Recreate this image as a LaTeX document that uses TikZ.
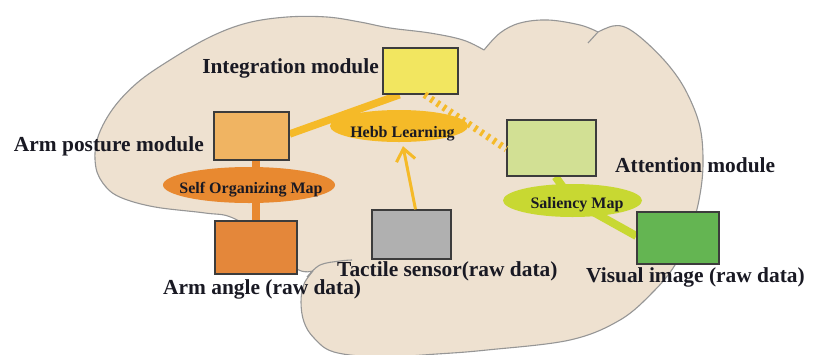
\documentclass[tikz,border=0pt]{standalone}
\usepackage{fontspec}
\setmainfont{Liberation Serif}
\usetikzlibrary{shapes.geometric,arrows.meta,calc}

\definecolor{brainfill}{RGB}{238,225,208}
\definecolor{brainedge}{RGB}{150,150,150}
\definecolor{boxedge}{RGB}{60,60,60}
\definecolor{labcol}{RGB}{25,25,35}
\definecolor{integcol}{RGB}{242,230,96}
\definecolor{posturecol}{RGB}{240,180,98}
\definecolor{anglecol}{RGB}{228,135,58}
\definecolor{tactilecol}{RGB}{176,176,176}
\definecolor{attncol}{RGB}{210,224,148}
\definecolor{visualcol}{RGB}{100,181,82}
\definecolor{hebbcol}{RGB}{245,186,40}
\definecolor{somcol}{RGB}{232,137,48}
\definecolor{salcol}{RGB}{200,216,50}

\pgfdeclarelayer{brainlayer}
\pgfdeclarelayer{linklayer}
\pgfdeclarelayer{maplayer}
\pgfsetlayers{brainlayer,linklayer,maplayer,main}

\begin{document}
\begin{tikzpicture}[x=1pt,y=-1pt,
  brain/.style={fill=brainfill,draw=brainedge,line width=1.1pt,line join=round},
  brainline/.style={draw=brainedge,line width=1.1pt},
  mod/.style={rectangle,draw=boxedge,line width=1.4pt,inner sep=0pt},
  ell/.style={ellipse,draw=none,inner sep=0pt},
  lab/.style={font=\fontsize{21.4}{24}\selectfont\bfseries,text=labcol,inner sep=0pt},
  small/.style={font=\fontsize{16}{18}\selectfont\bfseries,text=labcol,inner sep=0pt},
  hebbline/.style={draw=hebbcol,line width=7.5pt},
  hatchline/.style={draw=hebbcol,line width=7pt,dash pattern=on 3pt off 4.5pt},
  arrowline/.style={draw=hebbcol,line width=3pt,-{Straight Barb[length=12pt,width=19pt]}},
  somline/.style={draw=somcol,line width=8pt},
  salline/.style={draw=salcol,line width=8pt,line join=round}]

\useasboundingbox (0,0) rectangle (822,354);

% brain silhouette
\begin{pgfonlayer}{brainlayer}
\path[brain] plot[smooth,tension=0.6] coordinates {(313,271) (304,284) (301,302) (304,322) (314,338) (334,352) (380,357) (437,354) (487,350) (570,340) (620,320) (653,292) (675,265) (690,232) (699,200) (703,165) (700,127) (687,93) (670,67) (647,43) (627,28) (613,26) (598,32)}
  -- plot[smooth,tension=0.6] coordinates {(598,32) (580,25) (548,20) (520,23) (500,33) (484,50)}
  -- plot[smooth,tension=0.6] coordinates {(484,50) (463,40) (430,33) (390,28) (360,22) (327,17) (287,17) (247,23) (210,37) (170,60) (137,83) (112,110) (97,140) (96,168) (106,187) (122,198) (155,207) (205,213) (233,218) (270,242) (297,269) (313,271)}
  -- cycle;
\draw[brainline] plot[smooth,tension=0.6] coordinates {(307,277) (320,265) (340,261) (352,260)};
\draw[brainline] (598,32) -- (588,43);
\end{pgfonlayer}

% modules
\node[mod,fill=integcol,minimum width=75pt,minimum height=46pt] (integ) at (420.5,71) {};
\node[mod,fill=posturecol,minimum width=75pt,minimum height=48pt] (posture) at (251.5,136) {};
\node[mod,fill=anglecol,minimum width=82pt,minimum height=53pt] (angle) at (256,247.5) {};
\node[mod,fill=tactilecol,minimum width=79pt,minimum height=49pt] (tactile) at (411.5,234.5) {};
\node[mod,fill=attncol,minimum width=89pt,minimum height=56pt] (attn) at (551.5,148) {};
\node[mod,fill=visualcol,minimum width=82pt,minimum height=52pt] (visual) at (678,238) {};

% learning maps
\begin{pgfonlayer}{maplayer}
\node[ell,fill=hebbcol,minimum width=138pt,minimum height=32pt] (hebb) at (399,126) {};
\node[ell,fill=somcol,minimum width=172pt,minimum height=36pt] (som) at (249,185) {};
\node[ell,fill=salcol,minimum width=139pt,minimum height=33pt] (sal) at (572.5,200.5) {};
\end{pgfonlayer}

% links between modules
\begin{pgfonlayer}{linklayer}
\draw[hebbline] ([yshift=2pt]posture.east) -- ([xshift=-21pt]integ.south);
\draw[somline] (posture.south -| angle.north) -- (angle.north);
\draw[salline] ([xshift=4pt]attn.south) -- (sal.center) -- ([yshift=2pt]visual.west);
\end{pgfonlayer}
\draw[hatchline] ([xshift=4pt]integ.south) -- ([yshift=-1pt]attn.west);
\draw[arrowline] ([xshift=4pt]tactile.north) -- ([xshift=4pt,yshift=-4pt]hebb.south);

% map names
\node[small,anchor=base] (tHebb) at (402.5,137) {Hebb Learning};
\node[small,anchor=base] (tSom) at (251,193) {Self Organizing Map};
\node[small,anchor=base] (tSal) at (577,208) {Saliency Map};

% module names
\node[lab,anchor=base east] (tInteg) at (379,73) {Integration module};
\node[lab,anchor=base east] (tPosture) at (204,151) {Arm posture module};
\node[lab,anchor=base west] (tAttn) at (615,172) {Attention module};
\node[lab,anchor=base west] (tAngle) at (163,294) {Arm angle (raw data)};
\node[lab,anchor=base west] (tTactile) at (337,276) {Tactile sensor(raw data)};
\node[lab,anchor=base west] (tVisual) at (586,282) {Visual image (raw data)};

\end{tikzpicture}
\end{document}
